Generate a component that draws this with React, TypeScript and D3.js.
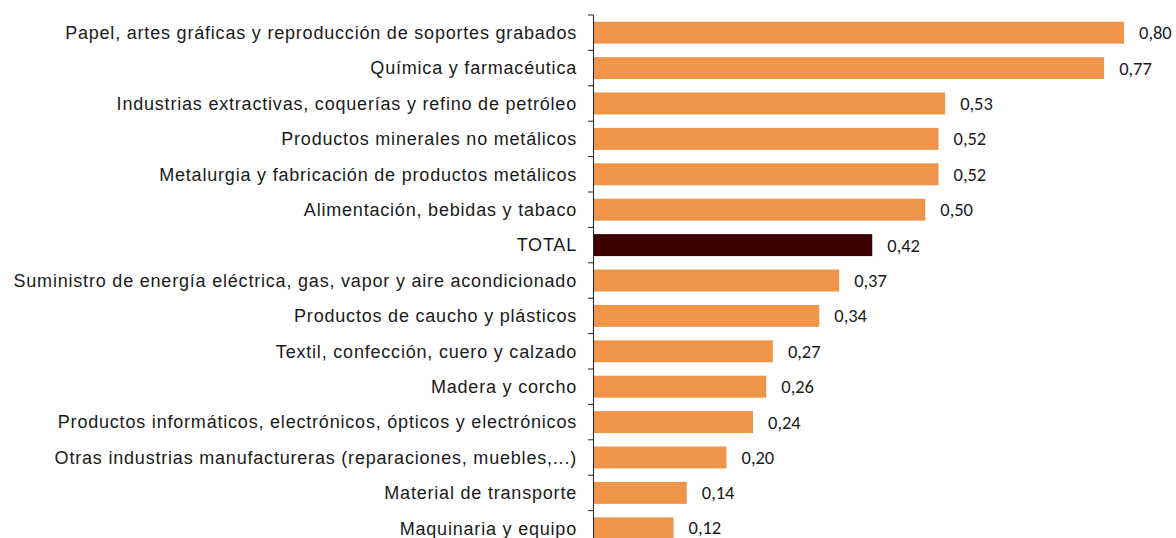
import * as d3 from "d3";

const categories = [
  "Papel, artes gráficas y reproducción de soportes grabados",
  "Química y farmacéutica",
  "Industrias extractivas, coquerías y refino de petróleo",
  "Productos minerales no metálicos",
  "Metalurgia y fabricación de productos metálicos",
  "Alimentación, bebidas y tabaco",
  "TOTAL",
  "Suministro de energía eléctrica, gas, vapor y aire acondicionado",
  "Productos de caucho y plásticos",
  "Textil, confección, cuero y calzado",
  "Madera y corcho",
  "Productos informáticos, electrónicos, ópticos y electrónicos",
  "Otras industrias manufactureras (reparaciones, muebles,...)",
  "Material de transporte",
  "Maquinaria y equipo",
];

const values = [0.8, 0.77, 0.53, 0.52, 0.52, 0.5, 0.42, 0.37, 0.34, 0.27, 0.26, 0.24, 0.2, 0.14, 0.12];

const highlight = "TOTAL";

export default function App() {
  const width = 1176;
  const height = 538;
  const axisX = 594;
  const top = 15;
  const step = 35.4;

  const x = d3.scaleLinear().domain([0, 0.8]).range([axisX, 1124]);
  const y = d3
    .scaleBand<string>()
    .domain(categories)
    .range([top, top + step * categories.length])
    .paddingInner(0.38)
    .paddingOuter(0.19);

  const fmt = (v: number) => d3.format(".2f")(v).replace(".", ",");
  const ticks = d3.range(categories.length + 1).map((i) => top + i * step);

  return (
    <svg
      width={width}
      height={height}
      style={{ position: "absolute", left: 0, top: 0, background: "#fff" }}
    >
      {categories.map((c, i) => (
        <g key={c}>
          <rect
            x={axisX}
            y={y(c)}
            width={x(values[i]) - axisX}
            height={y.bandwidth()}
            fill={c === highlight ? "#3d0000" : "#ee9549"}
          />
          <text
            x={577}
            y={(y(c) as number) + y.bandwidth() / 2}
            dy="0.35em"
            textAnchor="end"
            fontFamily="'Liberation Sans', Arial, sans-serif"
            fontSize={18}
            letterSpacing={0.8}
            fill="#1a1a1a"
          >
            {c}
          </text>
          <text
            x={x(values[i]) + 15}
            y={Math.min((y(c) as number) + y.bandwidth() / 2, 528)}
            dy="0.35em"
            fontFamily="Carlito, Lato, sans-serif"
            fontSize={18.5}
            fill="#1a1a1a"
          >
            {fmt(values[i])}
          </text>
        </g>
      ))}
      <line x1={axisX - 0.5} x2={axisX - 0.5} y1={top} y2={top + step * categories.length} stroke="#222" />
      {ticks.map((t) => (
        <line key={t} x1={axisX - 6} x2={axisX - 0.5} y1={t} y2={t} stroke="#222" />
      ))}
    </svg>
  );
}
